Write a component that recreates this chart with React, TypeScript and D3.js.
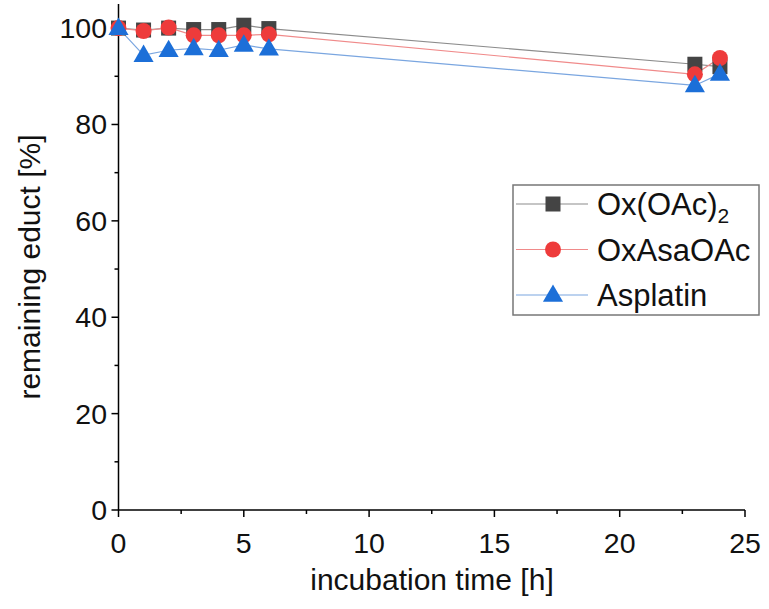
import React from "react";
import * as d3 from "d3";

const times = [0, 1, 2, 3, 4, 5, 6, 23, 24];
const oxOAc2 = [100, 99.6, 100, 99.7, 99.7, 100.6, 99.9, 92.5, 92.0];
const oxAsaOAc = [100, 99.4, 100.1, 98.5, 98.5, 98.5, 98.7, 90.4, 93.8];
const asplatin = [100, 94.4, 95.4, 95.8, 95.4, 96.5, 95.7, 88.1, 90.5];
const seriesNames = ["Ox(OAc)", "OxAsaOAc", "Asplatin"];
const xTicks = [0, 5, 10, 15, 20, 25];
const yTicks = [0, 20, 40, 60, 80, 100];

const W = 769;
const H = 609;
const FONT = "'Liberation Sans', Arial, sans-serif";

export default function App() {
  const x = d3.scaleLinear().domain([0, 25]).range([118.5, 745]);
  const y = d3.scaleLinear().domain([0, 105]).range([510, 4]);

  const series = [
    { name: seriesNames[0], values: oxOAc2, line: "#8c8c8c", fill: "#444444", shape: "square" },
    { name: seriesNames[1], values: oxAsaOAc, line: "#f08a8a", fill: "#ee3b3b", shape: "circle" },
    { name: seriesNames[2], values: asplatin, line: "#7aa6e0", fill: "#1c6fd8", shape: "triangle" },
  ];

  const lineGen = (vals: number[]) =>
    d3.line<number>().x((_, i) => x(times[i])).y((d) => y(d))(vals) || "";

  const marker = (shape: string, cx: number, cy: number, fill: string, key: string) => {
    if (shape === "square") {
      return <rect key={key} x={cx - 7.5} y={cy - 7.5} width={15} height={15} fill={fill} />;
    }
    if (shape === "circle") {
      return <circle key={key} cx={cx} cy={cy} r={8} fill={fill} />;
    }
    const p = d3.symbol().type(d3.symbolTriangle).size(175)() || "";
    return <path key={key} d={p} transform={`translate(${cx},${cy + 1})`} fill={fill} />;
  };

  const xMinor = d3.range(2.5, 25, 5);
  const yMinor = d3.range(10, 105, 20);

  return (
    <svg width={W} height={H} style={{ display: "block", position: "absolute", left: 0, top: 0 }}>
      <rect width={W} height={H} fill="white" />
      <line x1={x(0)} x2={x(25)} y1={y(0)} y2={y(0)} stroke="#000" strokeWidth={1.5} />
      <line x1={x(0)} x2={x(0)} y1={y(0)} y2={y(105)} stroke="#000" strokeWidth={1.5} />
      {xTicks.map((t) => (
        <g key={"xt" + t}>
          <line x1={x(t)} x2={x(t)} y1={y(0)} y2={y(0) + 7} stroke="#000" strokeWidth={1.5} />
          <text x={x(t)} y={553} textAnchor="middle" fontFamily={FONT} fontSize={28.5} fill="#111">
            {t}
          </text>
        </g>
      ))}
      {xMinor.map((t) => (
        <line key={"xm" + t} x1={x(t)} x2={x(t)} y1={y(0)} y2={y(0) + 4} stroke="#000" strokeWidth={1.5} />
      ))}
      {yTicks.map((t) => (
        <g key={"yt" + t}>
          <line x1={x(0) - 7} x2={x(0)} y1={y(t)} y2={y(t)} stroke="#000" strokeWidth={1.5} />
          <text x={107} y={y(t) + 10} textAnchor="end" fontFamily={FONT} fontSize={28.5} fill="#111">
            {t}
          </text>
        </g>
      ))}
      {yMinor.map((t) => (
        <line key={"ym" + t} x1={x(0) - 4} x2={x(0)} y1={y(t)} y2={y(t)} stroke="#000" strokeWidth={1.5} />
      ))}
      <text x={432} y={590} textAnchor="middle" fontFamily={FONT} fontSize={30} fill="#111">
        incubation time [h]
      </text>
      <text
        transform={`translate(40,${267}) rotate(-90)`}
        textAnchor="middle"
        fontFamily={FONT}
        fontSize={30}
        fill="#111"
      >
        remaining educt [%]
      </text>
      {series.map((s) => (
        <path key={"l" + s.name} d={lineGen(s.values)} fill="none" stroke={s.line} strokeWidth={1.2} />
      ))}
      {series.map((s) =>
        s.values.map((v, i) => marker(s.shape, x(times[i]), y(v), s.fill, s.name + i))
      )}
      <rect x={513} y={185} width={246} height={130} fill="white" stroke="#777" strokeWidth={1.5} />
      {series.map((s, i) => {
        const cy = 204 + i * 45.5;
        return (
          <g key={"lg" + s.name}>
            <line x1={516} x2={588} y1={cy} y2={cy} stroke={s.line} strokeWidth={1.2} />
            {marker(s.shape, 553, cy, s.fill, "lm" + i)}
            <text x={597} y={cy + 11} fontFamily={FONT} fontSize={31} fill="#111">
              {s.name}
              {i === 0 ? <tspan dy={8} fontSize={21}>2</tspan> : null}
            </text>
          </g>
        );
      })}
    </svg>
  );
}
